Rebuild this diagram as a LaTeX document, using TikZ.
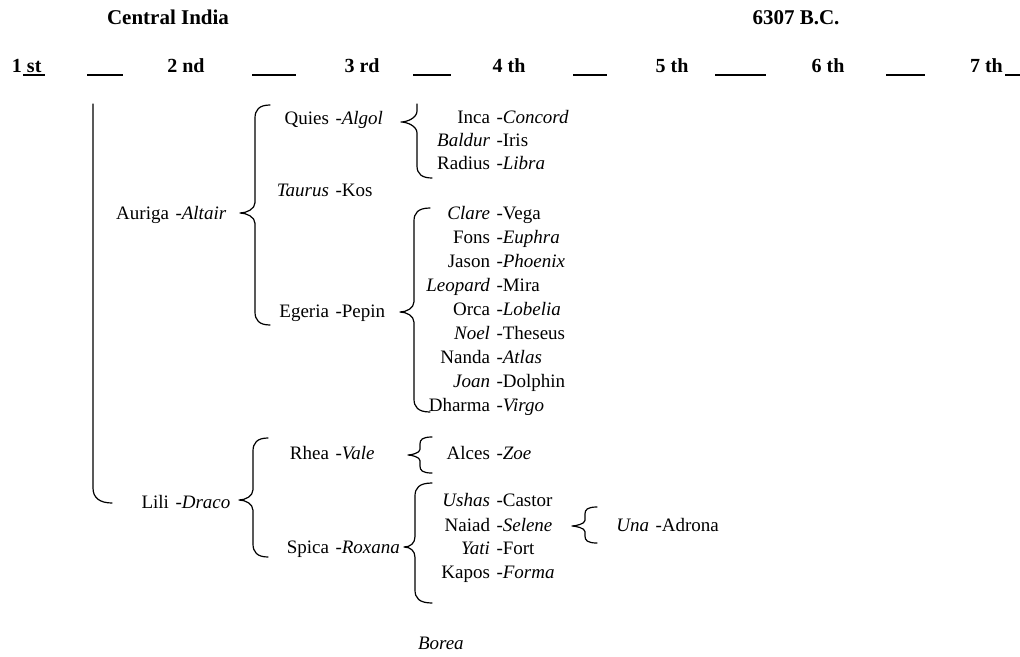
\documentclass[tikz,border=0pt]{standalone}
\usepackage{fontspec}
\setmainfont{Liberation Serif}

% one entry: first name right-aligned on the anchor, then " -second"
\newcommand\pair[2]{\makebox[0pt][r]{#1}\hspace{6.5pt}#2}

% curly bracket opening to the right:
% #1 x of the stem, #2 top y, #3 tip y, #4 bottom y,
% #5 x of the hook ends, #6 x of the tip, #7 hook radius
\newcommand\wbrace[7]{%
  \draw[bracket] (#5,#2) .. controls (#1+0.3*#7,#2) and (#1,#2+0.4*#7) .. (#1,#2+#7)
    -- (#1,#3-0.8*#7) .. controls (#1,#3-0.3*#7) and (#6+0.5*#7,#3) .. (#6,#3)
    .. controls (#6+0.5*#7,#3) and (#1,#3+0.3*#7) .. (#1,#3+0.8*#7)
    -- (#1,#4-#7) .. controls (#1,#4-0.4*#7) and (#1+0.3*#7,#4) .. (#5,#4);}

\begin{document}
\begin{tikzpicture}[x=1pt,y=-1pt,
  every node/.style={inner sep=0pt,outer sep=0pt},
  title/.style={font=\fontsize{21}{25}\selectfont\bfseries, anchor=base},
  head/.style={font=\fontsize{20}{24}\selectfont\bfseries, anchor=base},
  entry/.style={font=\fontsize{19}{22}\selectfont, anchor=base west},
  rule/.style={line width=1.4pt},
  bracket/.style={line width=1.2pt, line cap=round, line join=round}]

\useasboundingbox (0,0) rectangle (1020,656);

% title line
\node[title] (region) at (168,24) {Central India};
\node[title] (date) at (796,24) {6307 B.C.};

% generation line
\node[head, anchor=base west] (g1) at (12,72) {1 st};
\node[head] (g2) at (186,72) {2 nd};
\node[head] (g3) at (362,72) {3 rd};
\node[head] (g4) at (509,72) {4 th};
\node[head] (g5) at (672,72) {5 th};
\node[head] (g6) at (828,72) {6 th};
\node[head, anchor=base west] (g7) at (970,72) {7 th};
\foreach \a/\b in {23/45, 87/123, 252/296, 413/451, 573/607, 715/766, 886/925, 1005/1020}
  \draw[rule] (\a,75) -- (\b,75);

% first generation stem
\draw[bracket] (93,104) -- (93,488) .. controls (93,498) and (100,503) .. (112,503);

% second generation
\node[entry] (auriga) at (169,219) {\pair{Auriga}{\textit{-Altair}}};
\node[entry] (lili) at (169,508) {\pair{Lili}{\textit{-Draco}}};

% third generation
\wbrace{255}{105}{213}{325}{270}{240}{13}
\node[entry] (quies) at (329,124) {\pair{Quies}{\textit{-Algol}}};
\node[entry] (taurus) at (329,196) {\pair{\textit{Taurus}}{-Kos}};
\node[entry] (egeria) at (329,317) {\pair{Egeria}{-Pepin}};

\wbrace{253}{438}{500}{557}{268}{239}{13}
\node[entry] (rhea) at (329,459) {\pair{Rhea}{\textit{-Vale}}};
\node[entry] (spica) at (329,553) {\pair{Spica}{\textit{-Roxana}}};

% fourth generation
\draw[bracket] (417,104) -- (417,111) .. controls (417,118) and (407,122) .. (401,122)
  .. controls (407,122) and (417,126) .. (417,133) -- (417,166)
  .. controls (417,174) and (422,178) .. (432,178);
\node[entry] (inca) at (490,123) {\pair{Inca}{\textit{-Concord}}};
\node[entry] (baldur) at (490,146) {\pair{\textit{Baldur}}{-Iris}};
\node[entry] (radius) at (490,169) {\pair{Radius}{\textit{-Libra}}};

\wbrace{414}{208}{312}{412}{430}{400}{13}
\node[entry] (clare) at (490,219) {\pair{\textit{Clare}}{-Vega}};
\node[entry] (fons) at (490,243) {\pair{Fons}{\textit{-Euphra}}};
\node[entry] (jason) at (490,267) {\pair{Jason}{\textit{-Phoenix}}};
\node[entry] (leopard) at (490,291) {\pair{\textit{Leopard}}{-Mira}};
\node[entry] (orca) at (490,315) {\pair{Orca}{\textit{-Lobelia}}};
\node[entry] (noel) at (490,339) {\pair{\textit{Noel}}{-Theseus}};
\node[entry] (nanda) at (490,363) {\pair{Nanda}{\textit{-Atlas}}};
\node[entry] (joan) at (490,387) {\pair{\textit{Joan}}{-Dolphin}};
\node[entry] (dharma) at (490,411) {\pair{Dharma}{\textit{-Virgo}}};

\wbrace{420}{437}{455}{473}{432}{408}{7}
\node[entry] (alces) at (490,459) {\pair{Alces}{\textit{-Zoe}}};

\wbrace{415}{483}{547}{603}{432}{404}{13}
\node[entry] (ushas) at (490,506) {\pair{\textit{Ushas}}{-Castor}};
\node[entry] (naiad) at (490,531) {\pair{Naiad}{\textit{-Selene}}};
\node[entry] (yati) at (490,554) {\pair{\textit{Yati}}{-Fort}};
\node[entry] (kapos) at (490,578) {\pair{Kapos}{\textit{-Forma}}};

% fifth generation
\wbrace{585}{507}{526}{543}{597}{572}{7}
\node[entry] (una) at (649,531) {\pair{\textit{Una}}{-Adrona}};

\node[entry] (borea) at (418,649) {\textit{Borea}};
\end{tikzpicture}
\end{document}
